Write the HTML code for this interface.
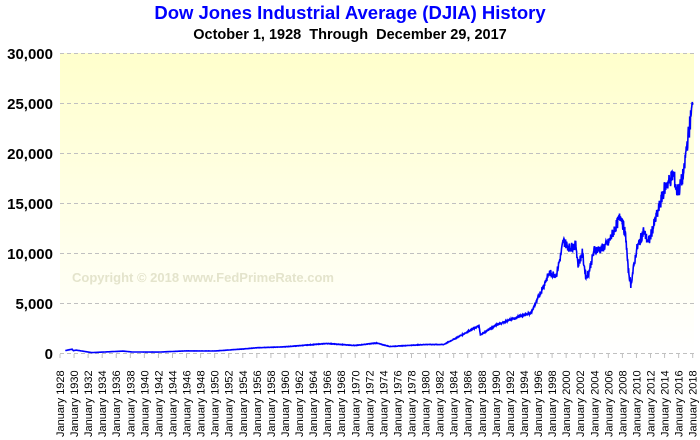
<!DOCTYPE html>
<html><head><meta charset="utf-8"><style>
body{margin:0;background:#fff;}
svg{display:block;font-family:"Liberation Sans",Arial,sans-serif;}
</style></head><body>
<svg id="s" width="700" height="440" viewBox="0 0 700 440" xmlns="http://www.w3.org/2000/svg">
<defs><linearGradient id="g" x1="0" y1="0" x2="0" y2="1"><stop offset="0" stop-color="#ffffcc"/><stop offset="1" stop-color="#ffffff"/></linearGradient></defs>
<rect x="60" y="53" width="634" height="300" fill="url(#g)"/>
<text x="350" y="19" text-anchor="middle" font-size="18.5" font-weight="bold" fill="#0000ff">Dow Jones Industrial Average (DJIA) History</text>
<text x="350" y="39" text-anchor="middle" font-size="14.5" font-weight="bold" fill="#000">October 1, 1928&#160;&#160;Through&#160;&#160;December 29, 2017</text>
<g id="grid" stroke="#c0c0c0" stroke-dasharray="4,3" stroke-width="1"></g>
<g id="yl" font-size="15" font-weight="bold" text-anchor="end" fill="#000"></g>
<g id="xl" font-size="11" fill="#000"></g>
<text x="72" y="282" font-size="13" font-weight="bold" fill="#e4e4cc">Copyright © 2018 www.FedPrimeRate.com</text>
<polyline id="p" fill="none" stroke="#0000ff" stroke-width="1.6" stroke-linejoin="miter"/>
</svg>
<script>
var NS="http://www.w3.org/2000/svg";
function el(t,a,p){var e=document.createElementNS(NS,t);for(var k in a)e.setAttribute(k,a[k]);document.getElementById(p).appendChild(e);return e;}
for(var i=0;i<=6;i++){var y=353-i*50;el("line",{x1:60,x2:694,y1:y+0.5,y2:y+0.5},"grid");
var t=el("text",{x:53,y:y+6},"yl");t.textContent=(i*5000).toLocaleString("en-US");}
function X(yr){return 60+(yr-1928)*7.03;}
for(var yr=1928;yr<=2018;yr+=2){var x=X(yr);el("line",{x1:x,x2:x,y1:354,y2:359},"grid");
var t=el("text",{x:0,y:0,transform:"translate("+(x+4)+",437) rotate(-90)"},"xl");t.textContent="January "+yr;}
var d=[[1928.75,240],[1929.7,381],[1929.9,230],[1930.3,290],[1932.5,41],[1937,190],[1938.3,99],[1942,93],[1946,212],[1950,200],[1954,400],[1956,520],[1960,620],[1966,950],[1970,750],[1973,1000],[1974.9,650],[1980,850],[1982.6,850],[1987.6,2720],[1987.8,1800],[1990,2800],[1994,3800],[1995,4000],[1996,5500],[1997.6,8000],[1998.6,7800],[1999.3,10000],[1999.6,11200],[2000.5,10500],[2001.4,10800],[2001.7,8800],[2002.3,10000],[2002.8,7600],[2003.2,8000],[2004,10300],[2005,10400],[2006,11000],[2007.8,13800],[2008.5,11500],[2008.8,8500],[2009.2,6800],[2010,10300],[2011,12200],[2011.7,11000],[2013,14000],[2014,16500],[2015.3,17900],[2015.7,16200],[2016.1,16400],[2016.8,18200],[2017,19900],[2017.99,24800]];
var pts=[],s=7;function r(){s=(s*9301+49297)%233280;return s/233280-0.5;}
for(var i=0;i<d.length-1;i++){var a=d[i],b=d[i+1];var n=Math.max(1,Math.round((b[0]-a[0])*24));
for(var j=0;j<n;j++){var f=j/n,v=a[1]+(b[1]-a[1])*f;v*=1+r()*(a[0]>1995?0.09:0.05);pts.push(X(a[0]+(b[0]-a[0])*f).toFixed(1)+","+(353-v/100).toFixed(1));}}
pts.push(X(2017.99)+","+(353-248));
document.getElementById("p").setAttribute("points",pts.join(" "));
</script>
</body></html>
